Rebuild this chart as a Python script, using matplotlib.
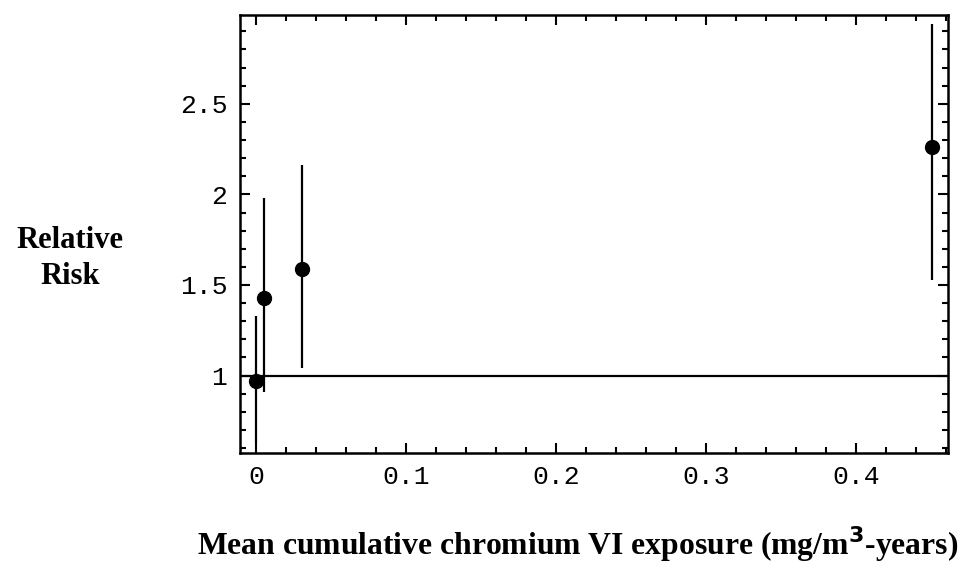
import numpy as np
import matplotlib
matplotlib.use("Agg")
import matplotlib.pyplot as plt
from matplotlib.ticker import MultipleLocator, FixedLocator

# exposure (mg/m3-years) and relative risk with CI
exposure = [0.0, 0.0055, 0.0305, 0.4505]
rr = [0.97, 1.43, 1.59, 2.26]
rr_low = [0.63, 0.91, 1.04, 1.53]
rr_high = [1.33, 1.98, 2.16, 2.94]

xticks = [0, 0.1, 0.2, 0.3, 0.4]
xtick_labels = ["0", "0.1", "0.2", "0.3", "0.4"]
yticks = [1, 1.5, 2, 2.5]
ytick_labels = ["1", "1.5", "2", "2.5"]

fig = plt.figure(figsize=(9.63, 5.63), dpi=100)
ax = fig.add_axes([0.2492, 0.1954, 0.7352, 0.778])

err = [np.array(rr) - np.array(rr_low), np.array(rr_high) - np.array(rr)]
ax.errorbar(exposure, rr, yerr=err, fmt='o', color='black', ms=10,
            elinewidth=1.6, capsize=0, zorder=3)
ax.axhline(1, color='black', lw=1.6, zorder=2)

ax.set_xlim(-0.0107, 0.4613)
ax.set_ylim(0.573, 2.99)

ax.xaxis.set_major_locator(FixedLocator(xticks))
ax.set_xticklabels(xtick_labels)
ax.yaxis.set_major_locator(FixedLocator(yticks))
ax.set_yticklabels(ytick_labels)
ax.xaxis.set_minor_locator(MultipleLocator(0.02))
ax.yaxis.set_minor_locator(MultipleLocator(0.1))

ax.tick_params(which='both', direction='in', top=True, right=True, width=1.5)
ax.tick_params(which='major', length=7)
ax.tick_params(which='minor', length=4)
ax.tick_params(axis='x', which='major', pad=9)
ax.tick_params(axis='y', which='major', pad=9)
for lab in ax.get_xticklabels() + ax.get_yticklabels():
    lab.set_family('Liberation Mono')
    lab.set_fontsize(19)

for s in ax.spines.values():
    s.set_linewidth(1.8)

# y label as two centred lines, left of the tick labels
fig.text(70 / 963, 1 - 248 / 563, "Relative", ha='center', va='baseline',
         family='Liberation Serif', weight='bold', fontsize=22)
fig.text(70 / 963, 1 - 284 / 563, "Risk", ha='center', va='baseline',
         family='Liberation Serif', weight='bold', fontsize=22)
fig.text(578 / 963, 1 - 555 / 563,
         r"Mean cumulative chromium VI exposure (mg/m$^{\mathbf{3}}$-years)",
         ha='center', va='baseline', family='Liberation Serif', weight='bold',
         fontsize=22.8)

fig.savefig("out.png", dpi=100)
